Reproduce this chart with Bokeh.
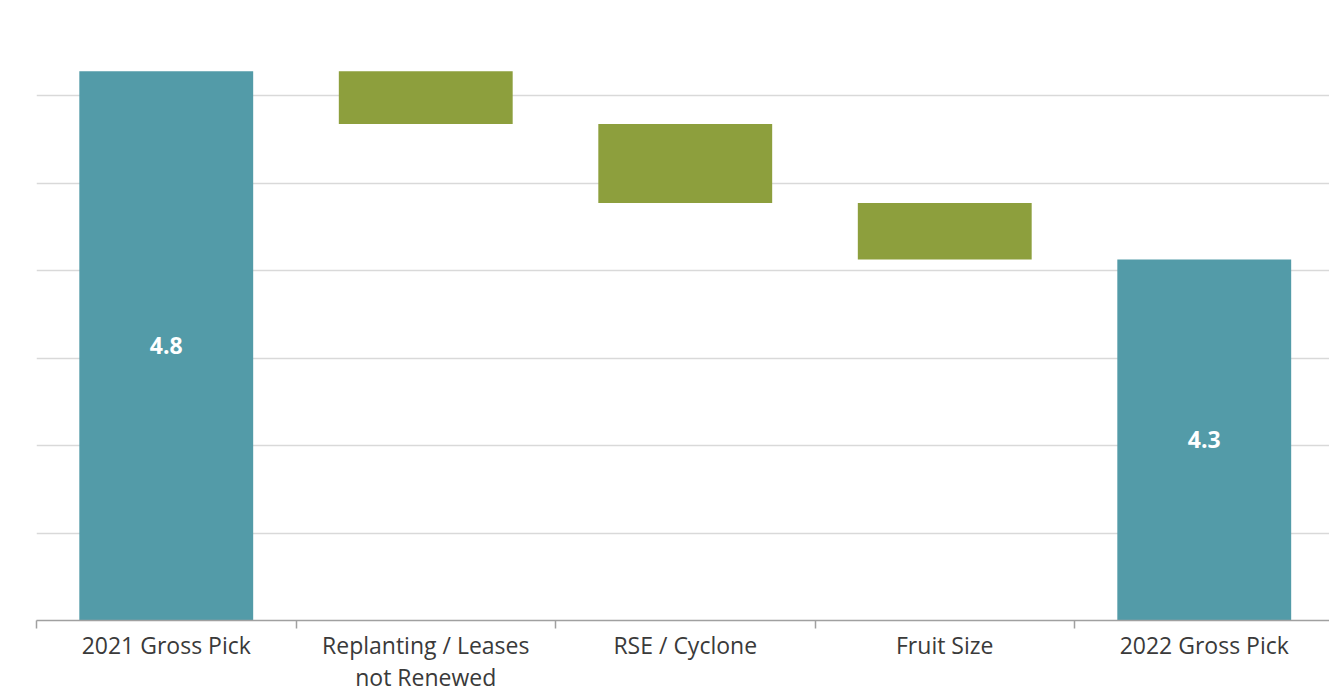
from bokeh.plotting import figure
from bokeh.models import ColumnDataSource, FixedTicker, Range1d, LabelSet
from bokeh.core.properties import value
from bokeh.embed import file_html
from bokeh.resources import INLINE

# ---- data ----
categories = ["2021 Gross Pick", "Replanting / Leases\nnot Renewed", "RSE / Cyclone", "Fruit Size", "2022 Gross Pick"]
start_value = 4.8
changes = [-0.14, -0.21, -0.15]
end_value = 4.3
total_labels = ["4.8", "4.3"]

# hidden value-axis scale
y_min = 3.341
px_per_unit = 376.5
grid_step = 0.2322

teal = "#539BA8"
green = "#8D9F3D"

# ---- layout ----
W, H = 1329, 696
frame_h = 620
left_border = 36
bottom_border = H - frame_h
frame_w = W - left_border
cat_px = 259.5
y_max = y_min + frame_h / px_per_unit

# ---- waterfall geometry ----
xs, tops, bottoms, colors = [], [], [], []
xs.append(0); bottoms.append(y_min); tops.append(start_value); colors.append(teal)
running = start_value
for i, c in enumerate(changes):
    new = running + c
    xs.append(i + 1)
    tops.append(max(running, new))
    bottoms.append(min(running, new))
    colors.append(green)
    running = new
xs.append(len(changes) + 1); bottoms.append(y_min); tops.append(end_value); colors.append(teal)

src = ColumnDataSource(dict(x=xs, top=tops, bottom=bottoms, color=colors))

lab_src = ColumnDataSource(dict(
    x=[0, len(changes) + 1],
    y=[(y_min + start_value) / 2, (y_min + end_value) / 2],
    text=total_labels,
))

n = len(categories)

p = figure(width=W, height=H, output_backend="svg", toolbar_location=None,
           x_range=Range1d(-0.5, -0.5 + frame_w / cat_px), y_range=Range1d(y_min, y_max),
           min_border_left=left_border, min_border_right=0, min_border_top=0,
           min_border_bottom=bottom_border)
p.outline_line_color = None
p.background_fill_color = "white"
p.border_fill_color = "white"

p.vbar(x="x", top="top", bottom="bottom", width=0.67, color="color", line_color=None, source=src)

p.add_layout(LabelSet(x="x", y="y", text="text", source=lab_src, text_align="center",
                      text_baseline="middle", text_color="white", text_font=value("Open Sans"),
                      text_font_style="bold", text_font_size="23px"))

# grid
p.xgrid.visible = False
p.ygrid.ticker = FixedTicker(ticks=[y_min + grid_step * k for k in range(1, 7)])
p.ygrid.grid_line_color = "#D9D9D9"
p.ygrid.grid_line_width = 1.5
p.yaxis.visible = False

# x axis: labels at category centres, ticks at category boundaries
ax = p.xaxis[0]
ax.ticker = FixedTicker(ticks=list(range(n)), minor_ticks=[i - 0.5 for i in range(n + 1)])
ax.major_label_overrides = {i: c for i, c in enumerate(categories)}
ax.major_label_text_font = "Open Sans"
ax.major_label_text_font_size = "23px"
ax.major_label_text_color = "#3A3A3A"
ax.major_label_text_line_height = 1.02
ax.major_label_standoff = 0
ax.major_tick_out = 0
ax.major_tick_in = 0
ax.minor_tick_out = 8
ax.minor_tick_in = 0
ax.minor_tick_line_color = "#A0A0A0"
ax.minor_tick_line_width = 1.5
ax.axis_line_color = "#A0A0A0"
ax.axis_line_width = 1.5

open("out.html", "w").write(file_html(p, INLINE))
